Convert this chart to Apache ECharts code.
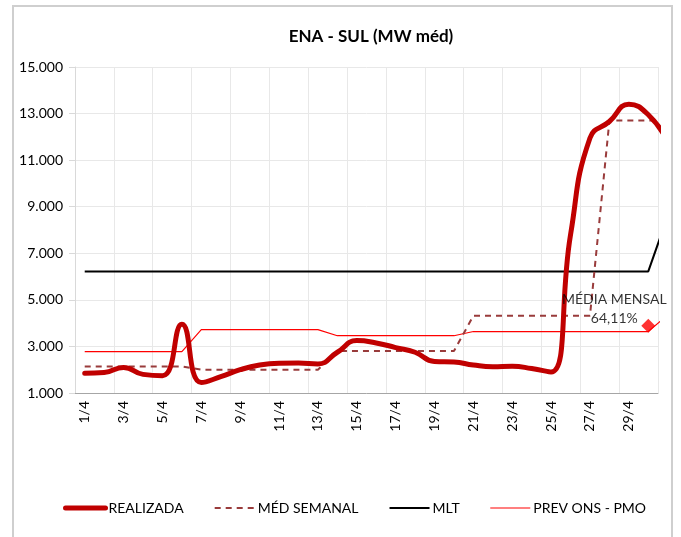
<!DOCTYPE html>
<html>
<head>
<meta charset="utf-8">
<title>ENA - SUL</title>
<script src="https://cdn.jsdelivr.net/npm/echarts@6/dist/echarts.min.js"></script>
<style>
  html, body { margin: 0; padding: 0; background: #fff; }
  #frame {
    position: absolute; left: 12px; top: 5px; width: 661px; height: 560px;
    border: 2px solid #cfcfcf; box-sizing: border-box;
  }
  #chart { position: absolute; left: 0; top: 0; width: 681px; height: 537px; }
</style>
</head>
<body>
<div id="frame"></div>
<div id="chart"></div>
<script>
// dias do mês (o último ponto fica fora do eixo, só para a linha sair pela borda)
const dias = ['1/4', '2/4', '3/4', '4/4', '5/4', '6/4', '7/4', '8/4', '9/4', '10/4',
  '11/4', '12/4', '13/4', '14/4', '15/4', '16/4', '17/4', '18/4', '19/4', '20/4',
  '21/4', '22/4', '23/4', '24/4', '25/4', '26/4', '27/4', '28/4', '29/4', '30/4', '1/5']

const realizada = [1850, 1880, 2100, 1800, 1740, 3950, 1450, 1700, 2000, 2200,
  2280, 2290, 2250, 2750, 3250, 3150, 2950, 2750, 2350, 2330,
  2200, 2130, 2150, 2050, 1900, 7800, 11950, 12660, 13400, 12950, 11800]

const medSemanal = [2140, 2140, 2140, 2140, 2140, 2140, 2000, 2000, 2000, 2000,
  2000, 2000, 2000, 2800, 2800, 2800, 2800, 2800, 2800, 2800,
  4320, 4320, 4320, 4320, 4320, 4320, 4320, 12700, 12700, 12700, 12700]

const mlt = [6220, 6220, 6220, 6220, 6220, 6220, 6220, 6220, 6220, 6220,
  6220, 6220, 6220, 6220, 6220, 6220, 6220, 6220, 6220, 6220,
  6220, 6220, 6220, 6220, 6220, 6220, 6220, 6220, 6220, 6220, 8600]

const prevOns = [2780, 2780, 2780, 2780, 2780, 2780, 3720, 3720, 3720, 3720,
  3720, 3720, 3720, 3460, 3460, 3460, 3460, 3460, 3460, 3460,
  3640, 3640, 3640, 3640, 3640, 3640, 3640, 3640, 3640, 3640, 4350]

// média mensal (marcador)
const mediaMensalDia = '30/4'
const mediaMensalValor = 3890
const mediaMensalTexto = 'MÉDIA MENSAL\n64,11%'

const fonte = 'Lato, "Liberation Sans", sans-serif'

const corRealizada = '#c00000'
const corSemanal = '#993b3b'
const corMlt = '#000'
const corPrev = '#ff0000'

// 15000 -> "15.000"
function milhar(v) {
  return String(v).replace(/\B(?=(\d{3})+(?!\d))/g, '.')
}

const chart = echarts.init(document.getElementById('chart'))

chart.setOption({
  animation: false,
  textStyle: { fontFamily: fonte, color: '#000' },
  title: {
    text: 'ENA - SUL (MW méd)',
    left: 366,
    top: 23,
    textAlign: 'center',
    textStyle: { fontFamily: fonte, fontSize: 17, fontWeight: 'bold', color: '#000' }
  },
  legend: {
    // o ícone da legenda não herda a espessura, então vai item a item
    data: [
      { name: 'REALIZADA', lineStyle: { color: corRealizada, width: 5, cap: 'round' } },
      { name: 'MÉD SEMANAL', lineStyle: { color: corSemanal, width: 2, type: [6, 5] } },
      { name: 'MLT', lineStyle: { color: corMlt, width: 2 } },
      { name: 'PREV ONS - PMO', lineStyle: { color: corPrev, width: 1.2 } }
    ],
    left: 58,
    top: 496,
    itemWidth: 40,
    itemHeight: 10,
    itemGap: 30,
    // esconde o símbolo do ícone, deixa só a linha
    itemStyle: { opacity: 0 },
    textStyle: { fontFamily: fonte, fontSize: 14, color: '#000', padding: [0, 0, 0, -2] }
  },
  grid: { left: 75, right: 23, top: 67, bottom: 144, containLabel: false },
  xAxis: {
    type: 'category',
    data: dias,
    max: 29,
    boundaryGap: true,
    axisLine: { lineStyle: { color: '#a6a6a6', width: 1 } },
    axisTick: { show: false },
    axisLabel: {
      interval: 1,
      rotate: 90,
      margin: 8,
      fontFamily: fonte,
      fontSize: 14,
      color: '#000'
    },
    splitLine: { show: true, interval: 1, lineStyle: { color: '#e8e8e8', width: 1 } }
  },
  yAxis: {
    type: 'value',
    min: 1000,
    max: 15000,
    interval: 2000,
    axisLine: { show: true, lineStyle: { color: '#d9d9d9' } },
    axisTick: { show: true, length: 6, lineStyle: { color: '#d9d9d9' } },
    axisLabel: {
      margin: 12,
      fontFamily: fonte,
      fontSize: 14,
      color: '#000',
      formatter: milhar
    },
    splitLine: { lineStyle: { color: '#e8e8e8', width: 1 } }
  },
  series: [
    {
      name: 'MLT',
      type: 'line',
      data: mlt,
      symbol: 'none',
      z: 2,
      lineStyle: { color: corMlt, width: 2 },
      itemStyle: { color: corMlt }
    },
    {
      name: 'PREV ONS - PMO',
      type: 'line',
      data: prevOns,
      symbol: 'none',
      z: 3,
      lineStyle: { color: corPrev, width: 1.2 },
      itemStyle: { color: corPrev }
    },
    {
      name: 'MÉD SEMANAL',
      type: 'line',
      data: medSemanal,
      symbol: 'none',
      z: 4,
      lineStyle: { color: corSemanal, width: 2, type: [6, 5] },
      itemStyle: { color: corSemanal }
    },
    {
      name: 'REALIZADA',
      type: 'line',
      data: realizada,
      symbol: 'none',
      smooth: 0.5,
      z: 5,
      lineStyle: { color: corRealizada, width: 5, cap: 'round' },
      itemStyle: { color: corRealizada }
    },
    {
      name: 'MÉDIA MENSAL',
      type: 'scatter',
      data: [[mediaMensalDia, mediaMensalValor]],
      symbol: 'diamond',
      symbolSize: 14,
      z: 6,
      itemStyle: { color: corPrev },
      label: {
        show: true,
        formatter: mediaMensalTexto,
        position: 'top',
        offset: [-34, 14],
        align: 'center',
        lineHeight: 19,
        fontFamily: fonte,
        fontSize: 14,
        color: '#000'
      }
    }
  ]
})
</script>
</body>
</html>
